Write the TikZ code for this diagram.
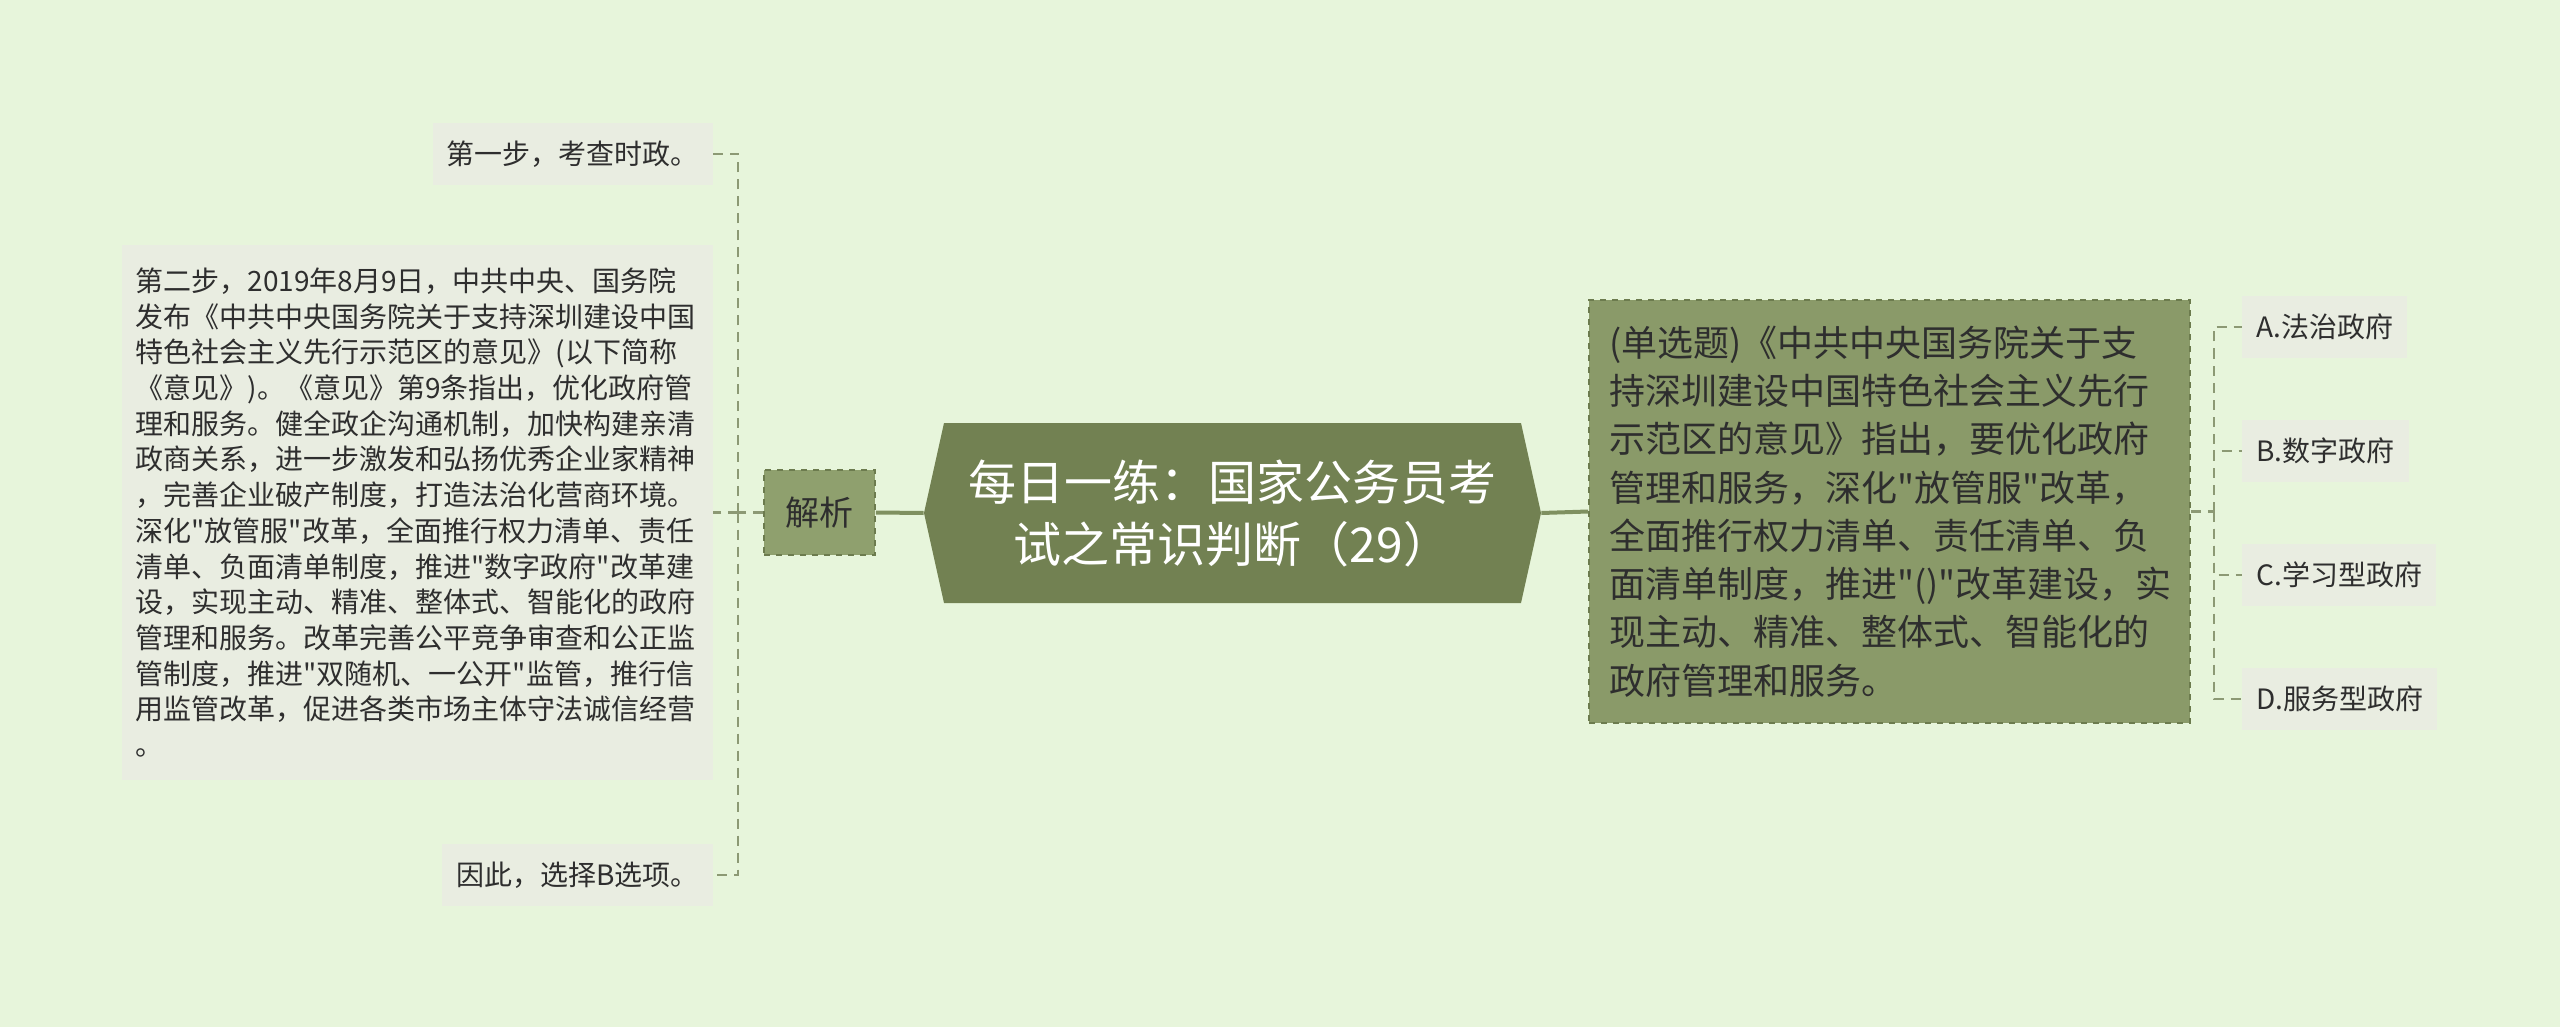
\documentclass[tikz,border=0pt]{standalone}
\usepackage{fontspec}
\setmainfont{Noto Sans CJK SC}[Ligatures=TeXOff]
\definecolor{bgc}{HTML}{E7F5DB}
\definecolor{leafc}{HTML}{E9EDE1}
\definecolor{rootc}{HTML}{728152}
\definecolor{qc}{HTML}{8A9A69}
\definecolor{jxc}{HTML}{8FA06E}
\definecolor{bordc}{HTML}{6C7B4E}
\definecolor{linec}{HTML}{7F9060}
\definecolor{dashc}{HTML}{8C9974}
\definecolor{txtc}{HTML}{2E2E2E}
\tikzset{
  leaf/.style={fill=leafc, text=txtc, inner xsep=7pt, inner ysep=0pt, minimum height=31pt,
    font=\fontsize{14}{17.85}\selectfont},
  bigleaf/.style={fill=leafc, text=txtc, inner xsep=7pt, inner ysep=0pt, minimum height=267.5pt,
    text width=281.5pt, align=left, font=\fontsize{14}{17.85}\selectfont},
  qbox/.style={fill=qc, draw=bordc, dashed, line width=0.8pt, text=txtc, inner xsep=10pt, inner ysep=0pt,
    minimum height=211.5pt, text width=280.5pt, align=left, font=\fontsize{18}{24.15}\selectfont},
  jxbox/.style={fill=jxc, draw=bordc, dashed, line width=0.8pt, text=txtc, minimum width=55.5pt,
    minimum height=42.5pt, inner sep=0pt, font=\fontsize{17}{20}\selectfont},
  roottext/.style={text=white, minimum width=308.5pt, minimum height=90pt, inner sep=0pt,
    align=center, font=\fontsize{24}{31}\selectfont},
  mainlink/.style={draw=linec, line width=2pt},
  sublink/.style={draw=dashc, line width=1.2pt, dash pattern=on 5pt off 3.5pt},
}
\begin{document}
\begin{tikzpicture}[x=0.5pt,y=-0.5pt]
\fill[bgc] (0,0) rectangle (2560,1027);
\useasboundingbox (0,0) rectangle (2560,1027);

% root
\fill[rootc] (924,513) -- (944,423) -- (1521,423) -- (1541,513) -- (1521,603) -- (944,603) -- cycle;
\node[roottext] (root) at (1232.5,513) {每日一练：国家公务员考\\试之常识判断（29）};

% level 1
\node[jxbox] (jx) at (819.5,512.5) {解析};
\node[qbox] (q) at (1889.5,511.5) {(单选题)《中共中央国务院关于支\\
持深圳建设中国特色社会主义先行\\
示范区的意见》指出，要优化政府\\
管理和服务，深化"放管服"改革，\\
全面推行权力清单、责任清单、负\\
面清单制度，推进"()"改革建设，实\\
现主动、精准、整体式、智能化的\\
政府管理和服务。};

% left leaves
\node[leaf, anchor=east] (l1) at (713,154) {第一步，考查时政。};
\node[bigleaf, anchor=east] (l2) at (713,512.5) {第二步，2019年8月9日，中共中央、国务院\\
发布《中共中央国务院关于支持深圳建设中国\\
特色社会主义先行示范区的意见》(以下简称\\
《意见》)。《意见》第9条指出，优化政府管\\
理和服务。健全政企沟通机制，加快构建亲清\\
政商关系，进一步激发和弘扬优秀企业家精神\\
，完善企业破产制度，打造法治化营商环境。\\
深化"放管服"改革，全面推行权力清单、责任\\
清单、负面清单制度，推进"数字政府"改革建\\
设，实现主动、精准、整体式、智能化的政府\\
管理和服务。改革完善公平竞争审查和公正监\\
管制度，推进"双随机、一公开"监管，推行信\\
用监管改革，促进各类市场主体守法诚信经营\\
。};
\node[leaf, anchor=east] (l3) at (713,875) {因此，选择B选项。};

% right leaves
\node[leaf, anchor=west] (oa) at (2242,327) {A.法治政府};
\node[leaf, anchor=west] (ob) at (2242,451) {B.数字政府};
\node[leaf, anchor=west] (oc) at (2242,575) {C.学习型政府};
\node[leaf, anchor=west] (od) at (2242,699) {D.服务型政府};

% connectors
\draw[mainlink] (root.west) -- (jx.east);
\draw[mainlink] (root.east) -- (q.west);

\coordinate (lj) at (738,512.5);
\coordinate (rj) at (2214,511.5);
\draw[sublink] (jx.west) -- (lj);
\draw[sublink] (lj) |- (l1.east);
\draw[sublink] (lj) |- (l2.east);
\draw[sublink] (lj) |- (l3.east);
\draw[sublink] (q.east) -- (rj);
\draw[sublink] (rj) |- (oa.west);
\draw[sublink] (rj) |- (ob.west);
\draw[sublink] (rj) |- (oc.west);
\draw[sublink] (rj) |- (od.west);
\end{tikzpicture}
\end{document}
